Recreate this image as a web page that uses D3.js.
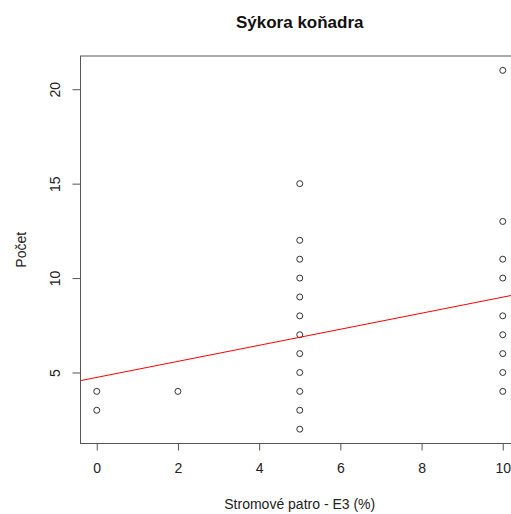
<!DOCTYPE html>
<html>
<head>
<meta charset="utf-8">
<script src="https://cdn.jsdelivr.net/npm/d3@7"></script>
<style>
  body { margin: 0; background: #fff; }
  text { font-family: "Liberation Sans", Arial, sans-serif; }
</style>
</head>
<body>
<svg class="chart"></svg>
<script>
// data
let xVals = [0, 0, 2,
  5, 5, 5, 5, 5, 5, 5, 5, 5, 5, 5, 5,
  10, 10, 10, 10, 10, 10, 10, 10, 10];
let yVals = [3, 4, 4,
  2, 3, 4, 5, 6, 7, 8, 9, 10, 11, 12, 15,
  4, 5, 6, 7, 8, 10, 11, 13, 21];
let xTicks = [0, 2, 4, 6, 8, 10];
let yTicks = [5, 10, 15, 20];
let fitLine = [4.74, 0.425]; // intercept, slope

let width = 511;
let height = 514;
let plotL = 80.5, plotR = 519, plotT = 56, plotB = 443.5;

let svg = d3.select(".chart")
  .attr("width", width)
  .attr("height", height);

let x = d3.scaleLinear().domain([-0.4, 10.4]).range([plotL, plotR]);
let y = d3.scaleLinear().domain([1.24, 21.76]).range([plotB, plotT]);

svg.append("defs").append("clipPath").attr("id", "plotclip")
  .append("rect")
  .attr("x", plotL).attr("y", plotT)
  .attr("width", plotR - plotL).attr("height", plotB - plotT);

// box
svg.append("rect")
  .attr("x", plotL).attr("y", plotT)
  .attr("width", plotR - plotL).attr("height", plotB - plotT)
  .attr("fill", "none")
  .attr("stroke", "#555")
  .attr("stroke-width", 1);

// x axis
let xAxis = svg.append("g")
  .attr("transform", "translate(0," + plotB + ")")
  .call(d3.axisBottom(x).tickValues(xTicks).tickSize(7).tickPadding(13).tickFormat(d3.format("d")));
xAxis.select(".domain").remove();
xAxis.selectAll("line").attr("stroke", "#555");
xAxis.selectAll("text").attr("font-size", 14).attr("fill", "#222");

// y axis
let yAxis = svg.append("g")
  .attr("transform", "translate(" + plotL + ",0)")
  .call(d3.axisLeft(y).tickValues(yTicks).tickSize(8).tickFormat(d3.format("d")));
yAxis.select(".domain").remove();
yAxis.selectAll("line").attr("stroke", "#555");
yAxis.selectAll("text")
  .attr("font-size", 14)
  .attr("fill", "#222")
  .attr("text-anchor", "middle")
  .attr("dy", null)
  .attr("x", null)
  .attr("transform", "translate(-26,0) rotate(-90)")
  .attr("dominant-baseline", "central");
xAxis.attr("font-family", null);
yAxis.attr("font-family", null);

// points
let pts = xVals.map(function(d, i) { return {x: d, y: yVals[i]}; });
svg.selectAll("circle")
  .data(pts)
  .enter()
  .append("circle")
  .attr("cx", function(d) { return x(d.x); })
  .attr("cy", function(d) { return y(d.y); })
  .attr("r", 3)
  .attr("fill", "none")
  .attr("stroke", "#333")
  .attr("stroke-width", 1);

// regression line
let xs = x.domain();
svg.append("line")
  .attr("clip-path", "url(#plotclip)")
  .attr("x1", x(xs[0])).attr("y1", y(fitLine[0] + fitLine[1] * xs[0]))
  .attr("x2", x(xs[1])).attr("y2", y(fitLine[0] + fitLine[1] * xs[1]))
  .attr("stroke", "red")
  .attr("stroke-width", 1);

// titles
svg.append("text")
  .attr("x", (plotL + plotR) / 2)
  .attr("y", 28)
  .attr("text-anchor", "middle")
  .attr("font-size", 17)
  .attr("font-weight", "bold")
  .attr("fill", "#111")
  .text("Sýkora koňadra");

svg.append("text")
  .attr("x", (plotL + plotR) / 2)
  .attr("y", 509)
  .attr("text-anchor", "middle")
  .attr("font-size", 14)
  .attr("fill", "#222")
  .text("Stromové patro - E3 (%)");

svg.append("text")
  .attr("transform", "translate(26," + ((plotT + plotB) / 2) + ") rotate(-90)")
  .attr("text-anchor", "middle")
  .attr("font-size", 14)
  .attr("fill", "#222")
  .text("Počet");
</script>
</body>
</html>
